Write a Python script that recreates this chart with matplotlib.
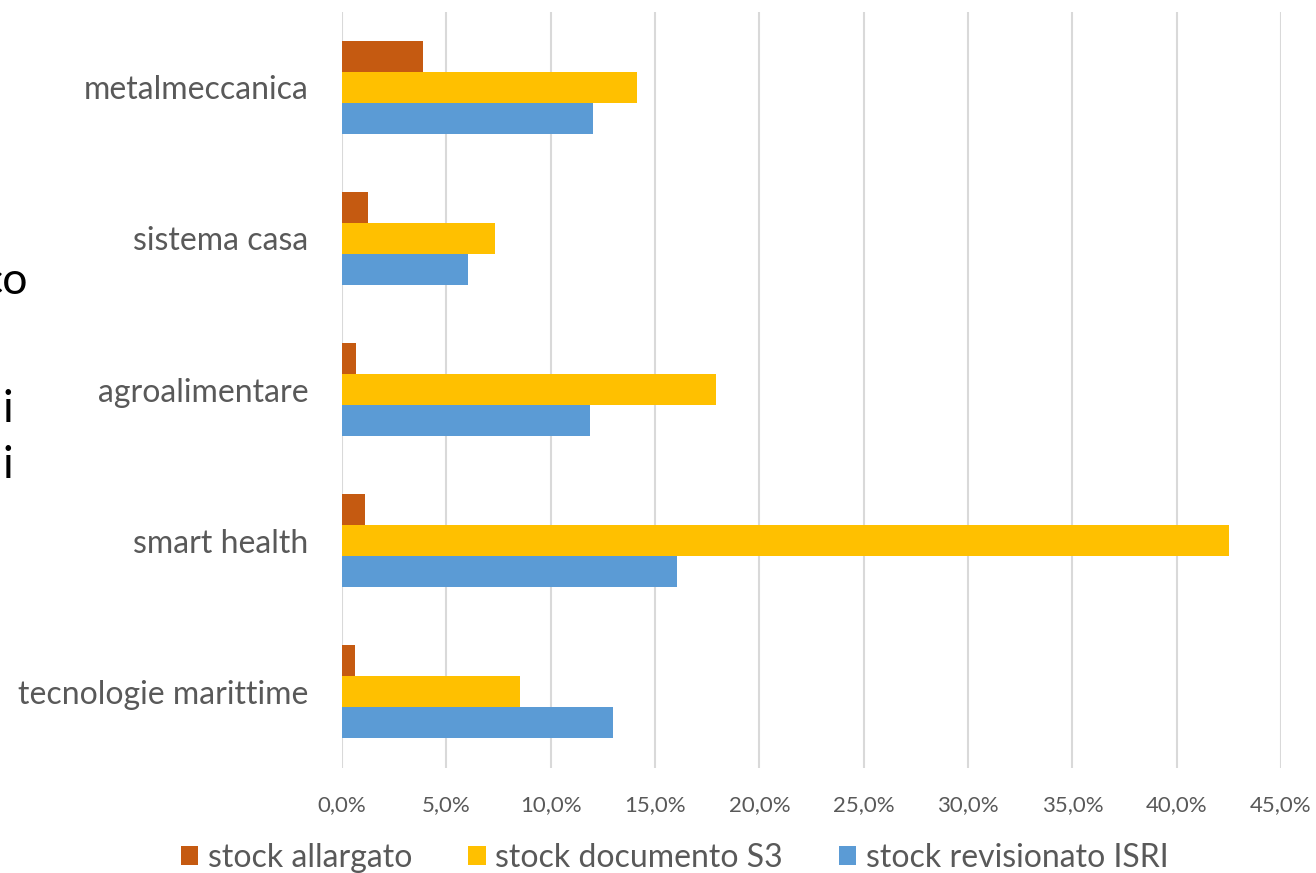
import matplotlib
matplotlib.use("Agg")
import matplotlib.pyplot as plt
import numpy as np

plt.rcParams['font.family'] = ['Lato', 'DejaVu Sans']

categories = ["metalmeccanica", "sistema casa", "agroalimentare", "smart health", "tecnologie marittime"]
stock_allargato = [3.86, 1.25, 0.67, 1.08, 0.62]
stock_documento_s3 = [14.12, 7.35, 17.93, 42.53, 8.51]
stock_revisionato_isri = [12.03, 6.02, 11.89, 16.07, 12.99]
series_names = ["stock allargato", "stock documento S3", "stock revisionato ISRI"]
colors = ["#C55A11", "#FFC000", "#5B9BD5"]
xticks = [0, 5, 10, 15, 20, 25, 30, 35, 40, 45]
xtick_labels = ["0,0%", "5,0%", "10,0%", "15,0%", "20,0%", "25,0%", "30,0%", "35,0%", "40,0%", "45,0%"]

fig = plt.figure(figsize=(13.16, 8.73), dpi=100)
ax = fig.add_axes([0.2599, 0.1208, 0.7135, 0.866])

y = np.arange(len(categories))
h = 0.205
handles = []
for k, (vals, c) in enumerate(zip([stock_allargato, stock_documento_s3, stock_revisionato_isri], colors)):
    b = ax.barh(y + (k - 1) * h, vals, height=h, color=c, zorder=3, label=series_names[k])
    handles.append(b)

ax.set_ylim(len(categories) - 0.5, -0.5)
ax.set_xlim(0, 45)
ax.set_xticks(xticks)
ax.set_xticklabels(xtick_labels, fontsize=16, color="#595959")
ax.set_yticks(y)
ax.set_yticklabels(categories, fontsize=23, color="#595959")
ax.tick_params(axis='both', length=0)
ax.tick_params(axis='x', pad=20)
ax.tick_params(axis='y', pad=24)
ax.grid(axis='x', color="#D9D9D9", linewidth=1.5, zorder=0)
for s in ax.spines.values():
    s.set_visible(False)

leg = fig.legend(handles=handles, labels=series_names, loc='center', bbox_to_anchor=(0.5125, 0.017),
                 ncol=3, frameon=False, fontsize=23, handlelength=0.55, handleheight=0.55,
                 handletextpad=0.3, columnspacing=1.75, labelcolor="#595959")

# stray text fragments at the left edge
fig.text(-0.014, 1 - 282 / 873, "co", fontsize=32, color="black", va='center', ha='left')
fig.text(0.002, 1 - 410 / 873, "i", fontsize=32, color="black", va='center', ha='left')
fig.text(0.002, 1 - 465 / 873, "i", fontsize=32, color="black", va='center', ha='left')

fig.savefig("out.png", dpi=100)
